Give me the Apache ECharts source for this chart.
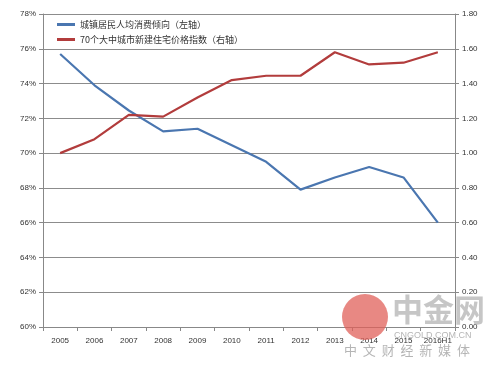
<!DOCTYPE html>
<html><head><meta charset="utf-8">
<script src="https://cdn.jsdelivr.net/npm/echarts@6/dist/echarts.min.js"></script>
<style>html,body{margin:0;padding:0;background:#fff}#c{width:500px;height:368px}</style>
</head><body><div id="c"></div>
<script>
const categories = ['2005','2006','2007','2008','2009','2010','2011','2012','2013','2014','2015','2016H1'];
const consumptionRate = [75.7, 73.9, 72.45, 71.25, 71.4, 70.45, 69.5, 67.9, 68.6, 69.2, 68.6, 66.0];
const housePriceIndex = [1.00, 1.08, 1.22, 1.21, 1.32, 1.42, 1.445, 1.445, 1.58, 1.51, 1.52, 1.58];
const seriesNames = ['城镇居民人均消费倾向（左轴）', '70个大中城市新建住宅价格指数（右轴）'];

const chart = echarts.init(document.getElementById('c'));
const font = 'Liberation Sans, Arial, sans-serif';
chart.setOption({
  animation: false,
  textStyle: {fontFamily: font},
  grid: {left: 43, right: 45, top: 14, bottom: 41},
  legend: {
    left: 52, top: 15, orient: 'vertical', itemGap: 6,
    itemWidth: 18, itemHeight: 3, icon: 'rect',
    textStyle: {fontSize: 9, color: '#333', fontFamily: 'Noto Sans CJK SC'},
    data: seriesNames
  },
  xAxis: {
    type: 'category', data: categories, boundaryGap: true,
    axisLine: {lineStyle: {color: '#888', width: 1}},
    axisTick: {show: true, length: 4, interval: 0, lineStyle: {color: '#888'}},
    axisLabel: {fontSize: 8, color: '#333', margin: 10, interval: 0}
  },
  yAxis: [
    {type: 'value', min: 60, max: 78, interval: 2, position: 'left',
     axisLine: {show: true, lineStyle: {color: '#888'}},
     axisTick: {show: true, length: 4, lineStyle: {color: '#888'}},
     axisLabel: {formatter: '{value}%', fontSize: 8, color: '#333', margin: 7},
     splitLine: {lineStyle: {color: '#8c8c8c', width: 1}}},
    {type: 'value', min: 0, max: 1.8, interval: 0.2, position: 'right',
     axisLine: {show: true, lineStyle: {color: '#888'}},
     axisTick: {show: true, length: 4, lineStyle: {color: '#888'}},
     axisLabel: {formatter: v => v.toFixed(2), fontSize: 8, color: '#333', margin: 7},
     splitLine: {show: false}}
  ],
  series: [
    {name: seriesNames[0], type: 'line', yAxisIndex: 0, data: consumptionRate,
     symbol: 'none', lineStyle: {color: '#4a76b0', width: 2.2}, itemStyle: {color: '#4a76b0'}},
    {name: seriesNames[1], type: 'line', yAxisIndex: 1, data: housePriceIndex,
     symbol: 'none', lineStyle: {color: '#b23c3c', width: 2.2}, itemStyle: {color: '#b23c3c'}}
  ],
  graphic: [
    {type: 'circle', shape: {cx: 365, cy: 317, r: 23}, style: {fill: '#e0605a', opacity: 0.75}, z: 100},
    {type: 'text', left: 392, top: 294, style: {text: '中金网', fontSize: 31, fontWeight: 'bold', fill: 'rgba(160,160,160,0.6)', fontFamily: 'Noto Sans CJK SC'}, z: 100},
    {type: 'text', left: 394, top: 331, style: {text: 'CNGOLD.COM.CN', fontSize: 9, fill: 'rgba(150,150,150,0.7)'}, z: 100},
    {type: 'text', left: 344, top: 344, style: {text: '中  文  财  经  新  媒  体', fontSize: 13, fill: 'rgba(150,150,150,0.7)', fontFamily: 'Noto Sans CJK SC'}, z: 100}
  ]
});
</script></body></html>
